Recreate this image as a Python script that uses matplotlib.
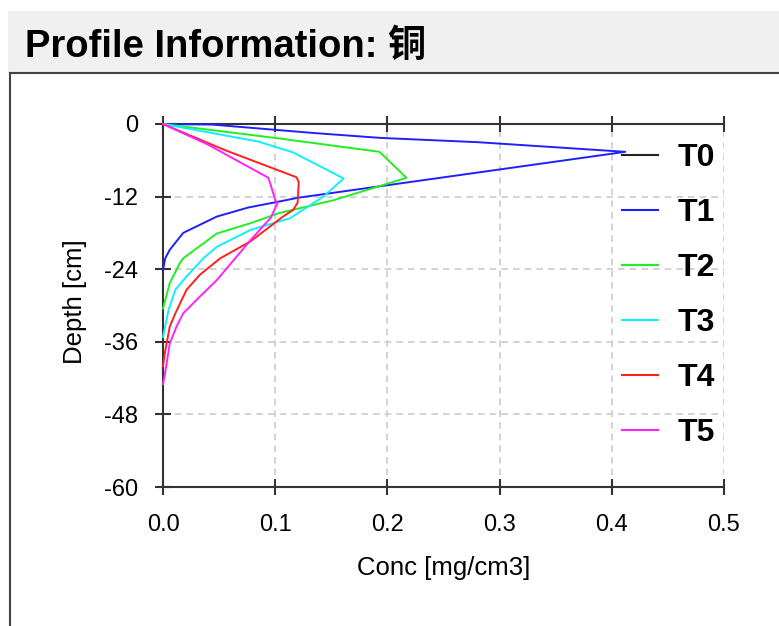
import matplotlib
matplotlib.use("Agg")
import matplotlib.pyplot as plt
from matplotlib.patches import Rectangle
from matplotlib.lines import Line2D

plt.rcParams['font.family'] = ['Liberation Sans', 'Noto Sans CJK SC', 'DejaVu Sans']
plt.rcParams['axes.unicode_minus'] = False

# profile data: concentration [mg/cm3] vs depth [cm]
t0_conc = [0.0, 0.0]
t0_depth = [0.0, -60.0]

t1_conc = [0.0, 0.044, 0.135, 0.194, 0.28, 0.412, 0.193, 0.12, 0.104, 0.076, 0.048, 0.018, 0.006, 0.002, 0.0]
t1_depth = [0.0, -0.1, -1.5, -2.3, -3.0, -4.6, -10.3, -12.2, -12.8, -13.8, -15.3, -18.0, -20.8, -22.2, -24.1]

t2_conc = [0.0, 0.104, 0.193, 0.217, 0.152, 0.104, 0.078, 0.048, 0.018, 0.015, 0.006, 0.002, 0.0]
t2_depth = [0.0, -2.4, -4.6, -8.9, -12.6, -14.7, -16.4, -18.1, -22.2, -23.0, -26.3, -29.1, -30.5]

t3_conc = [0.0, 0.085, 0.116, 0.161, 0.143, 0.113, 0.078, 0.048, 0.036, 0.021, 0.011, 0.005, 0.0]
t3_depth = [0.0, -2.9, -4.7, -9.0, -12.0, -15.6, -17.5, -20.3, -22.2, -25.2, -27.4, -30.7, -35.2]

t4_conc = [0.0, 0.055, 0.119, 0.121, 0.120, 0.116, 0.107, 0.078, 0.051, 0.033, 0.021, 0.011, 0.006, 0.002, 0.0]
t4_depth = [0.0, -4.3, -8.8, -9.6, -13.0, -14.2, -15.3, -19.4, -22.2, -24.9, -27.4, -31.3, -33.5, -37.5, -40.0]

t5_conc = [0.0, 0.040, 0.094, 0.100, 0.102, 0.096, 0.078, 0.063, 0.048, 0.033, 0.018, 0.012, 0.006, 0.002, 0.0]
t5_depth = [0.0, -3.4, -8.9, -12.5, -13.1, -15.5, -19.2, -22.5, -25.8, -28.5, -31.3, -33.5, -36.3, -41.0, -43.0]

series = [
    ("T0", t0_conc, t0_depth, "#222222"),
    ("T1", t1_conc, t1_depth, "#2020ff"),
    ("T2", t2_conc, t2_depth, "#22ee22"),
    ("T3", t3_conc, t3_depth, "#11eeff"),
    ("T4", t4_conc, t4_depth, "#ff2020"),
    ("T5", t5_conc, t5_depth, "#ff22ff"),
]

x_ticks = [0.0, 0.1, 0.2, 0.3, 0.4, 0.5]
y_ticks = [0, -12, -24, -36, -48, -60]

W, H = 779, 626
fig = plt.figure(figsize=(W / 100, H / 100), dpi=100)

# window-like panel: grey header band and border lines
fig.add_artist(Rectangle((8 / W, (H - 73) / H), 1, 62 / H, transform=fig.transFigure,
                         facecolor="#f0f0f0", edgecolor="none"))
fig.add_artist(Line2D([10 / W, 1], [(H - 73) / H] * 2, transform=fig.transFigure,
                      color="#444444", lw=1.5))
fig.add_artist(Line2D([10 / W] * 2, [0, (H - 73) / H], transform=fig.transFigure,
                      color="#444444", lw=1.5))
fig.text(25 / W, (H - 47) / H, "Profile Information: 铜", fontsize=27.5, fontweight="bold",
         va="center", ha="left")

ax = fig.add_axes([163 / W, 139 / H, 561 / W, 363 / H])

for name, conc, depth, color in series:
    z = 1.5 if name == "T0" else 3
    ax.plot(conc, depth, color=color, lw=1.4, label=name, zorder=z, clip_on=False)

ax.set_xlim(0, 0.5)
ax.set_ylim(-60, 0)
ax.set_xticks(x_ticks)
ax.set_xticklabels([f"{v:.1f}" for v in x_ticks])
ax.set_yticks(y_ticks)
ax.set_yticklabels([str(v) for v in y_ticks])

ax.grid(True, color="#cccccc", linestyle=(0, (4, 3)), lw=1.2)
ax.set_axisbelow(True)

for side in ["left", "bottom", "top"]:
    ax.spines[side].set_color("#333333")
    ax.spines[side].set_linewidth(1.5)
ax.spines["right"].set_visible(False)

ax.tick_params(axis="y", direction="inout", length=11.5, width=1.5, color="#333333",
               labelsize=17, pad=12, right=False)
ax.tick_params(axis="x", direction="inout", length=11.5, width=1.5, color="#333333",
               labelsize=17, pad=14, top=True)

ax.set_xlabel("Conc [mg/cm3]", fontsize=18.5, va="center")
ax.xaxis.set_label_coords(0.5, -0.223)
ax.set_ylabel("Depth [cm]", fontsize=18.5, va="center")
ax.yaxis.set_label_coords(-0.157, 0.51)

leg = ax.legend(loc="upper left", bbox_to_anchor=(0.818, 0.947), frameon=False,
                borderpad=0, borderaxespad=0, handlelength=1.14, handletextpad=0.62,
                labelspacing=0.78, prop={"size": 23, "weight": "bold"})
for line in leg.get_lines():
    line.set_linewidth(1.5)

fig.savefig("out.png", dpi=100)
